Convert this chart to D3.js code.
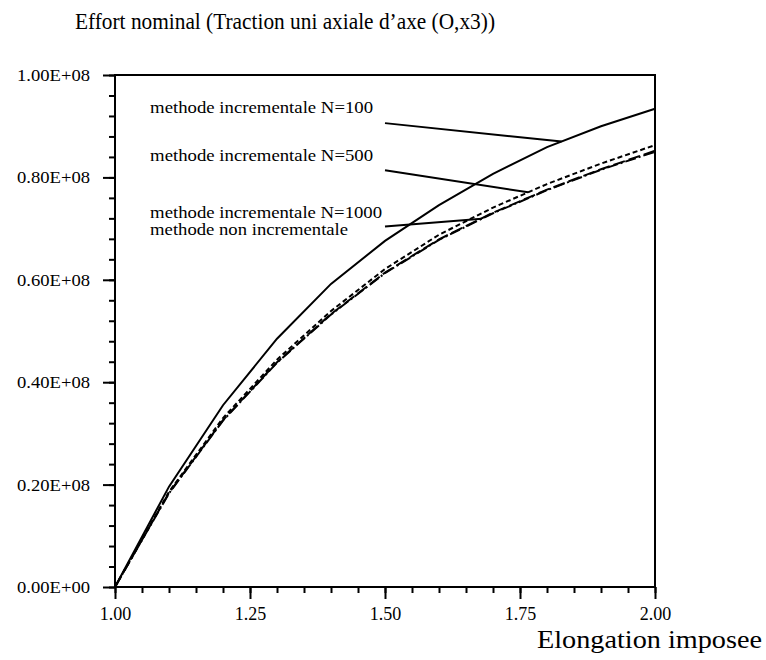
<!DOCTYPE html>
<html><head><meta charset="utf-8">
<script src="https://cdn.jsdelivr.net/npm/d3@7"></script>
<style>body{margin:0;background:#fff}svg{display:block}</style>
</head><body><svg id="c" width="766" height="660"></svg>
<script>
// Data (effort in units of 1e6)
const elongation    = [1.0, 1.1, 1.2, 1.3, 1.4, 1.5, 1.6, 1.7, 1.8, 1.9, 2.0];
const effortN100    = [0, 19.6, 35.5, 48.5, 59.2, 67.6, 74.6, 80.7, 85.9, 90.0, 93.4];
const effortN500    = [0, 18.6, 33.0, 44.4, 53.9, 62.1, 68.8, 74.1, 78.7, 82.7, 86.3];
const effortN1000   = [0, 18.4, 32.6, 43.9, 53.3, 61.4, 67.9, 73.1, 77.6, 81.6, 85.2];
const effortNonIncr = [0, 18.3, 32.5, 43.8, 53.2, 61.3, 67.8, 73.0, 77.5, 81.5, 85.0];

const xTickValues = [1.0, 1.25, 1.5, 1.75, 2.0];
const xTickLabels = ["1.00", "1.25", "1.50", "1.75", "2.00"];
const yTickValues = [0, 20, 40, 60, 80, 100];
const yTickLabels = ["0.00E+00", "0.20E+08", "0.40E+08", "0.60E+08", "0.80E+08", "1.00E+08"];

const legendLabels = ["methode incrementale N=100", "methode incrementale N=500",
                      "methode incrementale N=1000", "methode non incrementale"];
const legendLabelY = [92.5, 83.3, 72.1, 68.7];      // label baselines (data units)
const leaderStartY = [90.6, 81.4, 70.4];            // leader start heights (data units)
const leaderTargetX = [1.827, 1.765, 1.679];        // where leaders touch their curves

const titleText = "Effort nominal (Traction uni axiale d\u2019axe (O,x3))";
const xAxisTitle = "Elongation imposee";

const svg = d3.select("#c");
const font = "Liberation Serif";
const x = d3.scaleLinear().domain([1, 2]).range([115, 655]);
const y = d3.scaleLinear().domain([0, 100]).range([587, 75]);

// Curves
const series = [
  {v: effortNonIncr, dash: "11,3,2,3"},
  {v: effortN1000, dash: "12,4"},
  {v: effortN500, dash: "5,3"},
  {v: effortN100, dash: null}
];
const line = d3.line().x((d, i) => x(elongation[i])).y(d => y(d));
series.forEach(s => {
  svg.append("path").datum(s.v).attr("d", line)
    .attr("fill", "none").attr("stroke", "#000").attr("stroke-width", 2)
    .attr("stroke-dasharray", s.dash);
});

// Axes: minor ticks
const xMinor = d3.range(1, 2.0001, 0.05);
const yMinor = d3.range(0, 100.001, 4);
svg.append("g").attr("transform", `translate(0,${y(0)})`)
  .call(d3.axisBottom(x).tickValues(xMinor).tickSize(6).tickFormat(""))
  .call(a => { a.select(".domain").remove(); a.selectAll("line").attr("stroke-width", 2); });
svg.append("g").attr("transform", `translate(${x(1)},0)`)
  .call(d3.axisLeft(y).tickValues(yMinor).tickSize(6).tickFormat(""))
  .call(a => { a.select(".domain").remove(); a.selectAll("line").attr("stroke-width", 2); });

// Axes: major ticks + labels
const xa = svg.append("g").attr("transform", `translate(0,${y(0)})`)
  .call(d3.axisBottom(x).tickValues(xTickValues).tickSize(12).tickPadding(8)
    .tickFormat((d, i) => xTickLabels[i]));
xa.select(".domain").remove();
xa.selectAll("line").attr("stroke-width", 2);
xa.selectAll("text").attr("font-family", font).attr("font-size", 18).attr("fill", "#000");

const ya = svg.append("g").attr("transform", `translate(${x(1)},0)`)
  .call(d3.axisLeft(y).tickValues(yTickValues).tickSize(12).tickPadding(13)
    .tickFormat((d, i) => yTickLabels[i]));
ya.select(".domain").remove();
ya.selectAll("line").attr("stroke-width", 2);
ya.selectAll("text").attr("font-family", font).attr("font-size", 17).attr("fill", "#000")
  .attr("textLength", 73).attr("lengthAdjust", "spacingAndGlyphs");

// Frame
svg.append("rect").attr("x", x(1)).attr("y", y(100))
  .attr("width", x(2) - x(1)).attr("height", y(0) - y(100))
  .attr("fill", "none").attr("stroke", "#000").attr("stroke-width", 2);

// Legend labels and leader lines
const legendX = 1.065;
const legendLengths = [223, 223, 232, 198];
legendLabels.forEach((t, i) => {
  svg.append("text").attr("x", x(legendX)).attr("y", y(legendLabelY[i]))
    .attr("font-family", font).attr("font-size", 17)
    .attr("textLength", legendLengths[i]).attr("lengthAdjust", "spacingAndGlyphs")
    .text(t);
});
const targets = [effortN100, effortN500, effortNonIncr];
const interp = (arr, xv) => d3.scaleLinear().domain(elongation).range(arr)(xv);
leaderStartY.forEach((ys, i) => {
  svg.append("line")
    .attr("x1", x(1.5)).attr("y1", y(ys))
    .attr("x2", x(leaderTargetX[i])).attr("y2", y(interp(targets[i], leaderTargetX[i])))
    .attr("stroke", "#000").attr("stroke-width", 2);
});

// Titles
svg.append("text").attr("x", 75).attr("y", 29)
  .attr("font-family", font).attr("font-size", 23)
  .attr("textLength", 420).attr("lengthAdjust", "spacingAndGlyphs")
  .text(titleText);
svg.append("text").attr("x", 537).attr("y", 648)
  .attr("font-family", font).attr("font-size", 26)
  .attr("textLength", 225).attr("lengthAdjust", "spacingAndGlyphs")
  .text(xAxisTitle);
</script>
</body></html>
